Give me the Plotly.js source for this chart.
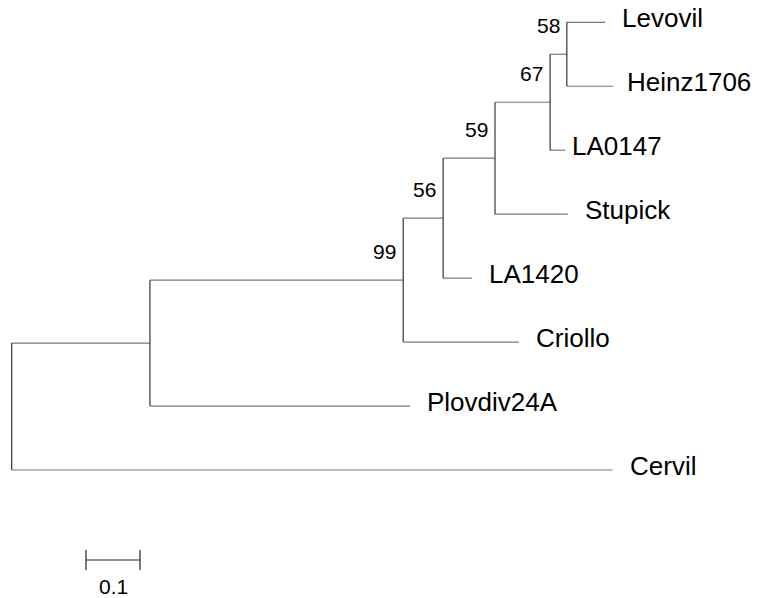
<!DOCTYPE html>
<html>
<head>
<meta charset="utf-8">
<script src="https://cdn.plot.ly/plotly-3.0.1.min.js"></script>
<style>html,body{margin:0;padding:0;background:#fff;}#chart{width:757px;height:598px;}</style>
</head>
<body>
<div id="chart"></div>
<script>
// ---- Tree data ----
const nodeIds = ['root','A','B99','C56','D59','E67','F58','Levovil','Heinz1706','LA0147','Stupick','LA1420','Criollo','Plovdiv24A','Cervil'];
const parentIds = [null,'root','A','B99','C56','D59','E67','F58','F58','E67','D59','C56','B99','A','root'];
const branchLengths = [0,0.256,0.469,0.074,0.096,0.102,0.031,0.071,0.086,0.028,0.135,0.053,0.214,0.482,1.113];
const bootstrap = [null,null,99,56,59,67,58,null,null,null,null,null,null,null,null];
const scaleBarLength = 0.1;
const scaleBarLabel = '0.1';

// ---- Build tree geometry ----
const children = {};
nodeIds.forEach(id => children[id] = []);
nodeIds.forEach((id, i) => { if (parentIds[i]) children[parentIds[i]].push(id); });
const idx = {}; nodeIds.forEach((id, i) => idx[id] = i);
const X = {}, Y = {};
let tipCounter = 0;
function layoutNode(id, xParent) {
  const x = xParent + branchLengths[idx[id]];
  X[id] = x;
  const ch = children[id];
  if (ch.length === 0) { Y[id] = tipCounter++; }
  else {
    ch.forEach(c => layoutNode(c, x));
    Y[id] = (Y[ch[0]] + Y[ch[ch.length - 1]]) / 2;
  }
}
layoutNode('root', 0);

const hx = [], hy = [], vx = [], vy = [];
nodeIds.forEach((id, i) => {
  const p = parentIds[i];
  if (p) { hx.push(X[p], X[id], null); hy.push(Y[id], Y[id], null); }
  const ch = children[id];
  if (ch.length) { vx.push(X[id], X[id], null); vy.push(Y[ch[0]], Y[ch[ch.length - 1]], null); }
});

// ---- Styles / positions ----
const pxPerUnit = 540;
const rootPx = 11.7;
const tipTopPx = 22.3, tipStepPx = 63.96;
const W = 757, H = 598;
const labelFont = {family: 'Liberation Sans, Arial, Helvetica, sans-serif', size: 26, color: '#000'};
const numFont = {family: 'Liberation Sans, Arial, Helvetica, sans-serif', size: 21, color: '#000'};
const labelGap = {Heinz1706: 12, LA0147: 5};

const annotations = [];
nodeIds.forEach((id, i) => {
  if (children[id].length === 0) {
    annotations.push({x: X[id], y: Y[id], text: id, showarrow: false, xanchor: 'left', yanchor: 'middle',
      xshift: (labelGap[id] !== undefined ? labelGap[id] : 15), yshift: 4, font: labelFont});
  } else if (bootstrap[i] !== null) {
    annotations.push({x: X[id], y: Y[id], text: String(bootstrap[i]), showarrow: false, xanchor: 'right', yanchor: 'middle',
      xshift: -5, yshift: 29, font: numFont});
  }
});

// scale bar position
const sbX0 = (86 - rootPx) / pxPerUnit;
const sbY = (560 - tipTopPx) / tipStepPx;
const tickH = 10 / tipStepPx;
annotations.push({x: sbX0 + scaleBarLength / 2, y: sbY, text: scaleBarLabel, showarrow: false, xanchor: 'center', yanchor: 'middle',
  yshift: -26, font: numFont});

const traces = [
  {x: hx, y: hy, mode: 'lines', line: {color: '#7a7a7a', width: 1.2}, hoverinfo: 'skip', showlegend: false},
  {x: vx, y: vy, mode: 'lines', line: {color: '#333333', width: 1.2}, hoverinfo: 'skip', showlegend: false},
  {x: [sbX0, sbX0 + scaleBarLength, null, sbX0, sbX0, null, sbX0 + scaleBarLength, sbX0 + scaleBarLength],
   y: [sbY, sbY, null, sbY - tickH, sbY + tickH, null, sbY - tickH, sbY + tickH],
   mode: 'lines', line: {color: '#222', width: 1.2}, hoverinfo: 'skip', showlegend: false}
];

const layout = {
  width: W, height: H,
  margin: {l: 0, r: 0, t: 0, b: 0},
  paper_bgcolor: '#fff', plot_bgcolor: '#fff',
  xaxis: {range: [-rootPx / pxPerUnit, (W - rootPx) / pxPerUnit], visible: false, fixedrange: true},
  yaxis: {range: [(H - tipTopPx) / tipStepPx, -tipTopPx / tipStepPx], visible: false, fixedrange: true},
  annotations: annotations,
  showlegend: false
};
Plotly.newPlot('chart', traces, layout, {staticPlot: true, displayModeBar: false});
</script>
</body>
</html>
